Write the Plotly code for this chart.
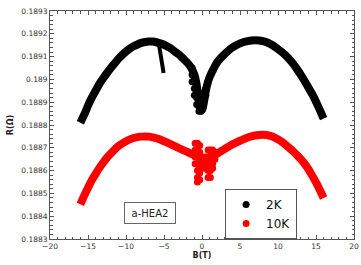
import plotly.graph_objects as go

# ---- data ----
B_2K = [-16, -15.5, -15, -14.5, -14, -13.5, -13, -12.5, -12, -11.5, -11, -10.5, -10, -9.5, -9, -8.5,
        -8, -7.5, -7, -6.5, -6, -5.5, -5, -4.5, -4, -3.5, -3, -2.5, -2, -1.5, -1, -0.75, -0.5, -0.25,
        0, 0.25, 0.5, 0.75, 1, 1.5, 2, 2.5, 3, 3.5, 4, 4.5, 5, 5.5, 6, 6.5, 7, 7.5, 8, 8.5, 9, 9.5,
        10, 10.5, 11, 11.5, 12, 12.5, 13, 13.5, 14, 14.5, 15, 15.5, 16]
R_2K = [0.188810, 0.188845, 0.188885, 0.188920, 0.188950, 0.188980, 0.189005, 0.189028, 0.189050,
        0.189070, 0.189090, 0.189107, 0.189122, 0.189135, 0.189145, 0.189153, 0.189160, 0.189164,
        0.189166, 0.189166, 0.189163, 0.189158, 0.189152, 0.189143, 0.189133, 0.189120, 0.189108,
        0.189092, 0.189076, 0.189055, 0.189020, 0.188985, 0.188930, 0.188880, 0.188865, 0.188900,
        0.188950, 0.188985, 0.189010, 0.189045, 0.189075, 0.189095, 0.189112, 0.189127, 0.189140,
        0.189150, 0.189158, 0.189164, 0.189168, 0.189171, 0.189172, 0.189171, 0.189168, 0.189163,
        0.189155, 0.189145, 0.189133, 0.189120, 0.189105, 0.189088, 0.189068, 0.189045, 0.189020,
        0.188993, 0.188964, 0.188935, 0.188902, 0.188866, 0.188828]

# scattered 2K points around zero field
B_2K_center = [-1.3, -1.3, -1.3, -1.0, -1.0, -1.0, -1.0, -0.7, -0.7, -0.7, -0.7,
               -0.4, -0.4, -0.4, -0.4, -0.1, -0.1, -0.1, 0.2, 0.2, 0.2, 0.5, 0.5]
R_2K_center = [0.18905, 0.18902, 0.18899, 0.18902, 0.18899, 0.18896, 0.18893,
               0.18898, 0.18895, 0.18892, 0.18889, 0.18894, 0.18891, 0.18888, 0.18886,
               0.18892, 0.18889, 0.18886, 0.18894, 0.18891, 0.18888, 0.18896, 0.18893]

# small spur in the 2K data near -5.5 T
B_2K_spur = [-5.65, -5.55, -5.45, -5.35, -5.25, -5.15, -5.05]
R_2K_spur = [0.189150, 0.189125, 0.189100, 0.189075, 0.189055, 0.189040, 0.189028]

B_10K = [-16, -15.5, -15, -14.5, -14, -13.5, -13, -12.5, -12, -11.5, -11, -10.5, -10, -9.5, -9, -8.5,
         -8, -7.5, -7, -6.5, -6, -5.5, -5, -4.5, -4, -3.5, -3, -2.5, -2, -1.5, -1, -0.5, 0, 0.5,
         1, 1.5, 2, 2.5, 3, 3.5, 4, 4.5, 5, 5.5, 6, 6.5, 7, 7.5, 8, 8.5, 9, 9.5, 10, 10.5, 11, 11.5,
         12, 12.5, 13, 13.5, 14, 14.5, 15, 15.5, 16]
R_10K = [0.188452, 0.188490, 0.188525, 0.188558, 0.188585, 0.188612, 0.188635, 0.188657, 0.188675,
         0.188692, 0.188707, 0.188719, 0.188729, 0.188737, 0.188743, 0.188747, 0.188749, 0.188750,
         0.188749, 0.188746, 0.188742, 0.188736, 0.188729, 0.188722, 0.188714, 0.188706, 0.188698,
         0.188690, 0.188683, 0.188675, 0.188668, 0.188662, 0.188655, 0.188655, 0.188660, 0.188665,
         0.188675, 0.188685, 0.188695, 0.188705, 0.188715, 0.188723, 0.188731, 0.188738, 0.188745,
         0.188750, 0.188754, 0.188756, 0.188757, 0.188756, 0.188752, 0.188746, 0.188737, 0.188726,
         0.188713, 0.188699, 0.188684, 0.188668, 0.188650, 0.188630, 0.188606, 0.188578, 0.188548,
         0.188515, 0.188480]

# scattered 10K points around zero field
B_10K_center = [-0.9, -0.9, -0.9, -0.9,
                -0.6, -0.6, -0.6, -0.6, -0.6, -0.6, -0.6,
                -0.3, -0.3, -0.3, -0.3, -0.3, -0.3,
                0.0, 0.0, 0.0, 0.4, 0.4, 0.4,
                0.8, 0.8, 0.8, 0.8, 0.8,
                1.1, 1.1, 1.1, 1.1, 1.1,
                1.4, 1.4, 1.4, 1.4, 1.7, 1.7]
R_10K_center = [0.18872, 0.18869, 0.18866, 0.18863,
                0.18872, 0.18869, 0.18866, 0.18863, 0.18860, 0.18857, 0.18855,
                0.18871, 0.18868, 0.18865, 0.18862, 0.18859, 0.18856,
                0.18866, 0.18863, 0.18861, 0.18866, 0.18863, 0.18861,
                0.18869, 0.18866, 0.18863, 0.18860, 0.18857,
                0.18869, 0.18866, 0.18863, 0.18860, 0.18857,
                0.18869, 0.18866, 0.18863, 0.18861, 0.18868, 0.18865]

x_tick_vals = [-20, -15, -10, -5, 0, 5, 10, 15, 20]
y_tick_vals = [0.1883, 0.1884, 0.1885, 0.1886, 0.1887, 0.1888, 0.1889, 0.1890, 0.1891, 0.1892, 0.1893]
y_tick_text = ["0.1883", "0.1884", "0.1885", "0.1886", "0.1887", "0.1888", "0.1889", "0.189",
               "0.1891", "0.1892", "0.1893"]

FONT = "DejaVu Sans"
AXC = "#555555"
BAND = 8

fig = go.Figure()
# 2K
fig.add_trace(go.Scatter(x=B_2K, y=R_2K, mode="lines", showlegend=False, legendgroup="2K",
                         line=dict(color="black", width=BAND, shape="spline", smoothing=0.6)))
fig.add_trace(go.Scatter(x=B_2K_spur, y=R_2K_spur, mode="lines", showlegend=False, legendgroup="2K",
                         line=dict(color="black", width=4)))
fig.add_trace(go.Scatter(x=B_2K_center, y=R_2K_center, mode="markers", name="2K", legendgroup="2K",
                         marker=dict(color="black", size=7, line=dict(width=0))))
# 10K
fig.add_trace(go.Scatter(x=B_10K, y=R_10K, mode="lines", showlegend=False, legendgroup="10K",
                         line=dict(color="#ff0000", width=BAND, shape="spline", smoothing=0.6)))
fig.add_trace(go.Scatter(x=B_10K_center, y=R_10K_center, mode="markers", name="10K", legendgroup="10K",
                         marker=dict(color="#ff0000", size=7, line=dict(width=0))))

axis_common = dict(showline=True, linecolor=AXC, linewidth=1, mirror="allticks",
                   ticks="inside", ticklen=4, tickcolor=AXC, showgrid=False, zeroline=False,
                   tickfont=dict(family=FONT, size=7.5, color="#333333"))

fig.update_xaxes(range=[-20, 20], tickvals=x_tick_vals,
                 minor=dict(dtick=1, ticks="inside", ticklen=2.5, tickcolor=AXC),
                 title=dict(text="<b>B(T)</b>", font=dict(family=FONT, size=8, color="#222"), standoff=2),
                 automargin=False, **axis_common)
fig.update_yaxes(range=[0.1883, 0.1893], tickvals=y_tick_vals, ticktext=y_tick_text,
                 minor=dict(dtick=0.00002, tick0=0.1883, ticks="inside", ticklen=2.5, tickcolor=AXC),
                 title=dict(text="<b>R(Ω)</b>", font=dict(family=FONT, size=8, color="#222"), standoff=6),
                 automargin=False, **axis_common)

fig.add_annotation(x=0.329, y=0.114, xref="paper", yref="paper", xanchor="center", yanchor="middle",
                   text="a-HEA2", showarrow=False, font=dict(family=FONT, size=10, color="#222"),
                   bordercolor="#666666", borderwidth=1, borderpad=3, bgcolor="white",
                   width=44, height=14)

fig.update_layout(
    width=361, height=265,
    margin=dict(l=50, r=7, t=11, b=26),
    paper_bgcolor="white", plot_bgcolor="white",
    showlegend=True,
    legend=dict(x=0.576, y=0.219, xanchor="left", yanchor="top",
                bordercolor="#555555", borderwidth=1, bgcolor="white",
                font=dict(family=FONT, size=12, color="#111"),
                itemwidth=30, tracegroupgap=0),
)

fig.write_html("out.html", config={"displayModeBar": False},
               post_script="document.body.style.margin='0px';")
